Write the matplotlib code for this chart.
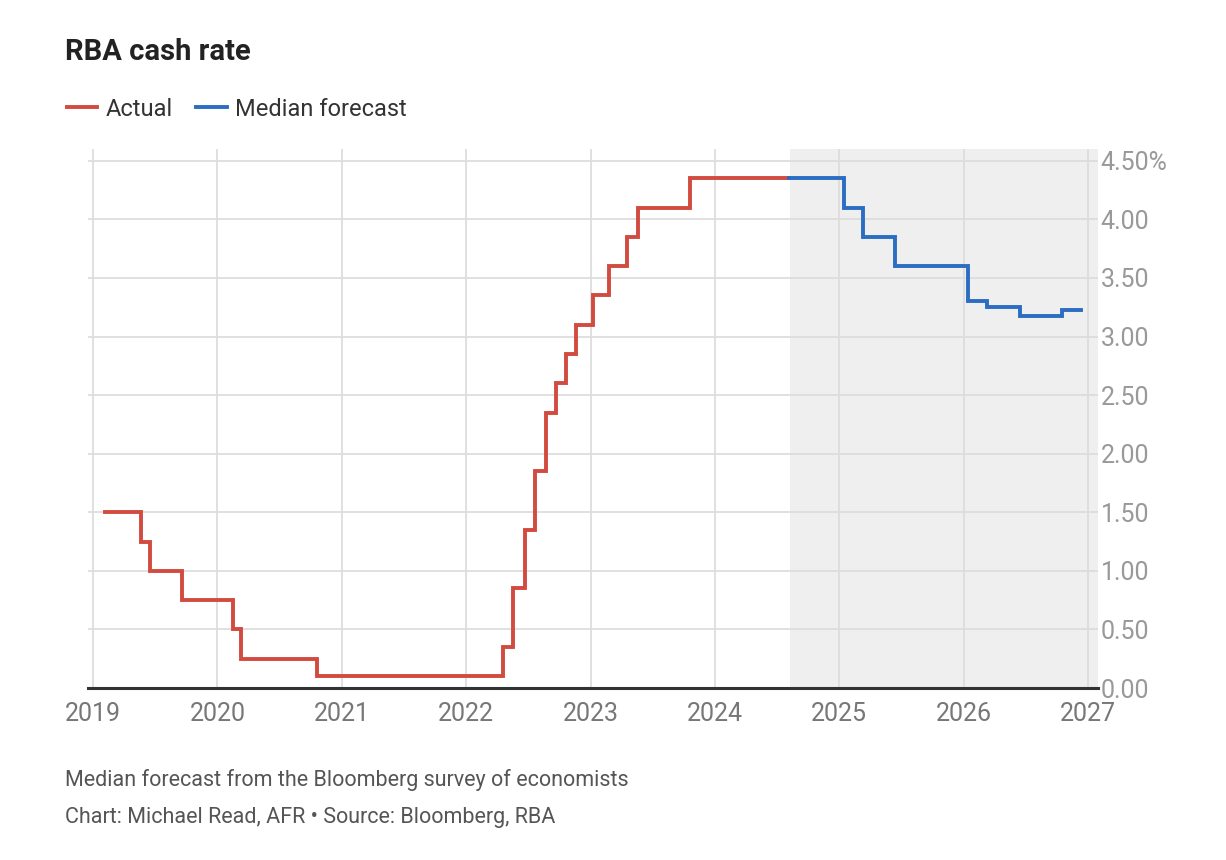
import numpy as np
import matplotlib
matplotlib.use("Agg")
import matplotlib.pyplot as plt
from matplotlib.lines import Line2D

plt.rcParams['font.family'] = ['Roboto', 'DejaVu Sans']

# RBA cash rate, step changes (decimal year the new rate starts)
actual_dates = [2019.10, 2019.387, 2019.46, 2019.715, 2020.128, 2020.19, 2020.80,
                2022.30, 2022.38, 2022.47, 2022.55, 2022.64, 2022.72, 2022.80,
                2022.886, 2023.02, 2023.145, 2023.29, 2023.38, 2023.80, 2024.595]
actual_rate = [1.50, 1.25, 1.00, 0.75, 0.50, 0.25, 0.10,
               0.35, 0.85, 1.35, 1.85, 2.35, 2.60, 2.85,
               3.10, 3.35, 3.60, 3.85, 4.10, 4.35, 4.35]

# median forecast from the Bloomberg survey
fc_dates = [2024.595, 2025.035, 2025.19, 2025.45, 2026.035, 2026.19, 2026.45, 2026.79, 2026.94]
fc_rate = [4.35, 4.10, 3.85, 3.60, 3.30, 3.25, 3.175, 3.225, 3.225]

years = [2019, 2020, 2021, 2022, 2023, 2024, 2025, 2026, 2027]
yticks = [0, 0.5, 1.0, 1.5, 2.0, 2.5, 3.0, 3.5, 4.0, 4.5]
ylabels = ["0.00", "0.50", "1.00", "1.50", "2.00", "2.50", "3.00", "3.50", "4.00", "4.50%"]

red = "#d24b40"
blue = "#2b6dc3"

fig = plt.figure(figsize=(12.26, 8.6), dpi=100)
ax = fig.add_axes([0.0718, 0.2, 0.8238, 0.6267])

ax.axvspan(2024.6, 2027.08, color="#efefef", zorder=0, lw=0)
ax.step(actual_dates, actual_rate, where="post", color=red, lw=2.8, zorder=3,
        solid_joinstyle="miter")
ax.step(fc_dates, fc_rate, where="post", color=blue, lw=2.8, zorder=3,
        solid_joinstyle="miter")

ax.set_xlim(2018.96, 2027.08)
ax.set_ylim(0, 4.6)
ax.set_xticks(years)
ax.set_xticklabels([str(y) for y in years])
ax.set_yticks(yticks)
ax.set_yticklabels(ylabels)
ax.yaxis.tick_right()

ax.set_axisbelow(True)
ax.grid(True, color="#dddddd", lw=1.3)
for s in ["top", "left", "right"]:
    ax.spines[s].set_visible(False)
ax.spines["bottom"].set_color("#333333")
ax.spines["bottom"].set_linewidth(2.2)
ax.spines["bottom"].set_zorder(4)

ax.tick_params(axis="x", length=0, pad=10, labelsize=18, labelcolor="#777777")
ax.tick_params(axis="y", length=0, pad=2, labelsize=18, labelcolor="#999999")

fig.text(0.053, 0.94, "RBA cash rate", fontsize=21, fontweight="bold",
         color="#222222", va="center")

handles = [Line2D([], [], color=red, lw=2.8), Line2D([], [], color=blue, lw=2.8)]
fig.legend(handles, ["Actual", "Median forecast"], loc="center left",
           bbox_to_anchor=(0.037, 0.873), frameon=False, fontsize=17,
           handlelength=1.3, handletextpad=0.35, columnspacing=1.0, ncol=2,
           labelcolor="#333333")

fig.text(0.053, 0.093, "Median forecast from the Bloomberg survey of economists",
         fontsize=15.5, color="#555555", va="center")
fig.text(0.053, 0.05, "Chart: Michael Read, AFR \u2022 Source: Bloomberg, RBA",
         fontsize=15.5, color="#555555", va="center")

fig.savefig("out.png", dpi=100, facecolor="white")
